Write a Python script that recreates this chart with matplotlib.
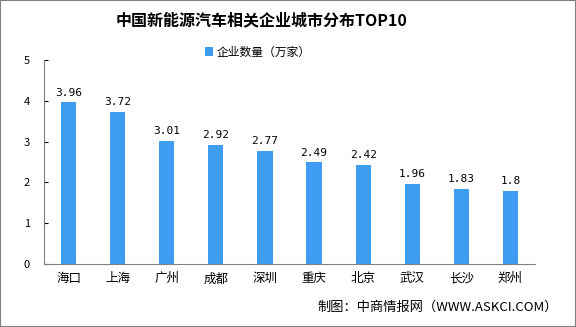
import matplotlib.pyplot as plt
from matplotlib.patches import Rectangle

plt.rcParams['font.family'] = ['Noto Sans CJK SC', 'DejaVu Sans']

cities = ['海口', '上海', '广州', '成都', '深圳', '重庆', '北京', '武汉', '长沙', '郑州']
counts = [3.96, 3.72, 3.01, 2.92, 2.77, 2.49, 2.42, 1.96, 1.83, 1.8]
value_labels = ['3.96', '3.72', '3.01', '2.92', '2.77', '2.49', '2.42', '1.96', '1.83', '1.8']

bar_color = '#3E9DF0'

fig = plt.figure(figsize=(5.76, 3.27), dpi=100)
ax = fig.add_axes([44 / 576, 63 / 327, 491 / 576, 204 / 327])

x = range(len(cities))
ax.bar(x, counts, width=0.31, color=bar_color, label='企业数量（万家）')
for i, (v, s) in enumerate(zip(counts, value_labels)):
    ax.text(i, v + 0.12, s, ha='center', va='bottom', fontsize=8,
            family=['DejaVu Sans Mono'])

ax.set_xlim(-0.5, len(cities) - 0.5)
ax.set_ylim(0, 5)
ax.set_yticks(range(6))
ax.set_xticks(list(x))
ax.set_xticklabels(cities, fontsize=9)
ax.tick_params(axis='x', length=0, pad=6)
ax.tick_params(axis='y', length=3, direction='in', labelsize=8, pad=10)
for s in ['top', 'right']:
    ax.spines[s].set_visible(False)
for s in ['left', 'bottom']:
    ax.spines[s].set_color('#808080')

fig.text(262 / 576, 1 - 20 / 327, '中国新能源汽车相关企业城市分布TOP10', ha='center', va='center',
         fontsize=11.5, fontweight='bold')
fig.legend(loc='center', bbox_to_anchor=(258 / 576, 1 - 52 / 327), frameon=False,
           fontsize=8.5, handlelength=0.7, handleheight=0.7, handletextpad=0.3)
fig.text(438 / 576, 1 - 307 / 327, '制图：中商情报网（WWW.ASKCI.COM）', ha='center', va='center',
         fontsize=9.5)

fig.patches.append(Rectangle((0, 0), 1, 1, transform=fig.transFigure, fill=False,
                             edgecolor='#808080', linewidth=1.5))

fig.savefig('out.png', dpi=100)
